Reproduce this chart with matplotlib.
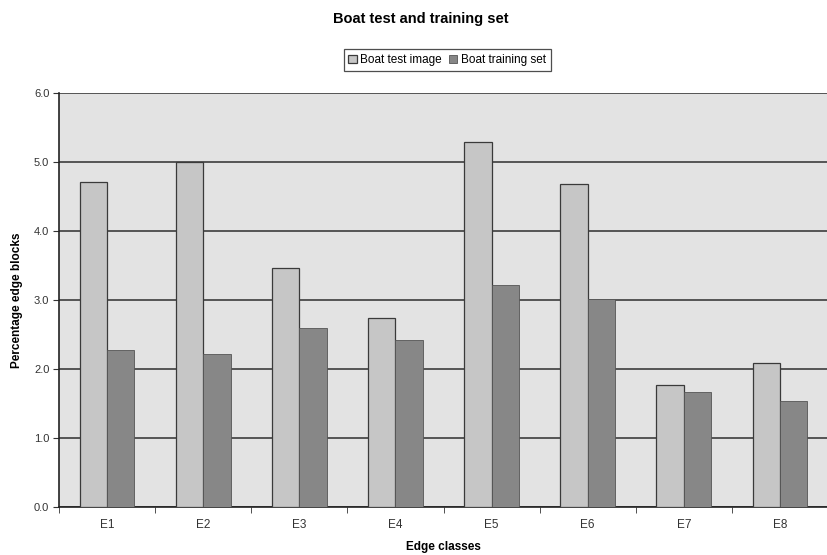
import matplotlib
matplotlib.use("Agg")
import matplotlib.pyplot as plt
import numpy as np

plt.rcParams['font.family'] = ['Liberation Sans', 'DejaVu Sans']

categories = ["E1", "E2", "E3", "E4", "E5", "E6", "E7", "E8"]
test_image = [4.71, 5.00, 3.47, 2.74, 5.29, 4.68, 1.77, 2.08]
training_set = [2.27, 2.22, 2.60, 2.42, 3.22, 3.01, 1.66, 1.53]
y_ticks = [0.0, 1.0, 2.0, 3.0, 4.0, 5.0, 6.0]
series_names = ["Boat test image", "Boat training set"]

fig = plt.figure(figsize=(8.28, 5.55), dpi=100)
ax = fig.add_axes([0.0713, 0.0865, 0.9287, 0.7459])
ax.set_facecolor("#e3e3e3")

x = np.arange(len(categories))
w = 0.285
ax.bar(x - w / 2, test_image, width=w, color="#c6c6c6", edgecolor="#3a3a3a",
       linewidth=0.9, label=series_names[0], zorder=3)
ax.bar(x + w / 2, training_set, width=w, color="#878787", edgecolor="#555555",
       linewidth=0.6, label=series_names[1], zorder=3)

ax.set_xlim(-0.5, len(categories) - 0.5)
ax.set_ylim(0, 6.0)
ax.set_yticks(y_ticks)
ax.set_yticklabels([f"{v:.1f}" for v in y_ticks], fontsize=8, color="#333333")
ax.yaxis.grid(True, color="#2e2e2e", linewidth=1.1, zorder=1)
ax.set_axisbelow(True)

# category labels centred, tick marks at the category boundaries
ax.set_xticks(x)
ax.set_xticklabels(categories, fontsize=8.5, color="#333333")
ax.tick_params(axis="x", length=0, pad=9)
ax.set_xticks(np.arange(len(categories) + 1) - 0.5, minor=True)
ax.tick_params(axis="x", which="minor", length=4, color="#333333", direction="out")
ax.tick_params(axis="y", length=4, color="#333333", direction="out", pad=3)

for side in ("top", "right"):
    ax.spines[side].set_visible(False)
ax.spines["left"].set_color("#222222")
ax.spines["left"].set_linewidth(1.2)
ax.spines["bottom"].set_color("#222222")
ax.spines["bottom"].set_linewidth(1.2)

ax.set_xlabel("Edge classes", fontsize=8.5, fontweight="bold", labelpad=7)
ax.set_ylabel("Percentage edge blocks", fontsize=8.5, fontweight="bold", labelpad=8)

fig.text(0.508, 0.965, "Boat test and training set", ha="center", va="center",
         fontsize=10.5, fontweight="bold")

leg = fig.legend(loc="center", bbox_to_anchor=(0.54, 0.892), ncol=2, fontsize=8.5,
                 frameon=True, fancybox=False, edgecolor="#222222",
                 handlelength=0.7, handleheight=0.7, handletextpad=0.3,
                 columnspacing=0.6, borderpad=0.4, borderaxespad=0)
leg.get_frame().set_linewidth(0.9)

fig.savefig("out.png", dpi=100, facecolor="white")
